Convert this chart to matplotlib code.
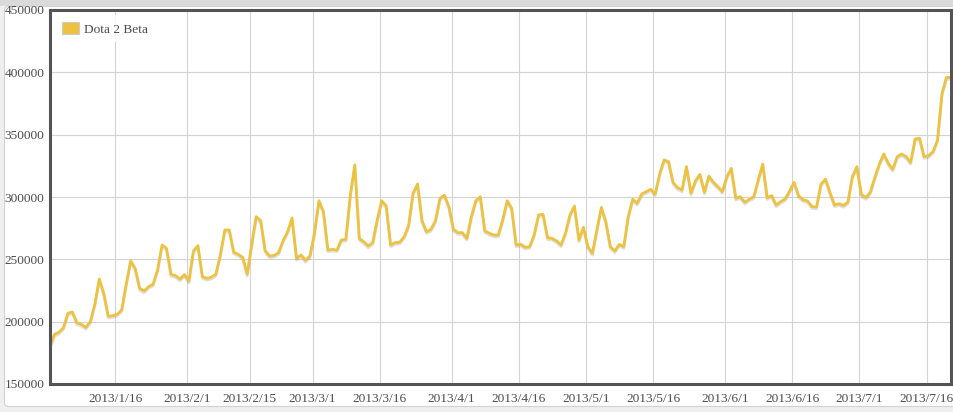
import matplotlib
matplotlib.use("Agg")
import matplotlib.pyplot as plt
import matplotlib.patheffects as pe
from matplotlib.patches import FancyBboxPatch, Rectangle
from matplotlib.transforms import IdentityTransform
import pandas as pd

SERIES_NAME = "Dota 2 Beta"
LINE_COLOR = "#edc240"
TEXT_COLOR = "#4c4c4c"
FRAME_COLOR = "#545454"

# daily player counts (2013-01-01 .. 2013-07-21)
players = [
    180000, 189900, 191500, 195200, 206700, 207800, 199200, 197900, 195400, 200000,
    213900, 234200, 222700, 204300, 204800, 205900, 209400, 230000, 248700, 242800,
    226800, 224600, 228100, 230000, 241500, 261500, 258800, 238000, 236900, 234200,
    237700, 232600, 256700, 261000, 236100, 234800, 235600, 238000, 253500, 273500,
    273500,
    255700, 254000, 251600, 238000, 262000, 284200, 281000, 257000, 252700, 253200,
    255300, 264900, 272100, 283200, 250800, 253500, 249200, 252700, 270900, 297000,
    288200, 257500, 258000, 257500, 265500, 266000, 301600, 325700, 266800, 264100,
    260700, 263400, 281600, 297000, 292800, 261500, 263400, 263700, 268000, 277000,
    303000, 310400, 281000, 272100, 274100, 281000, 299000, 301400, 292200, 274100,
    271400, 271400, 266800, 284200, 297000, 300200, 272900, 270900, 269500, 269500,
    281600, 297000, 290900, 261500, 262100, 259700, 260200, 269500, 285600, 286100,
    267400, 266800, 264900, 261500, 270900, 285600, 292800, 265500, 275700,
    260200, 254800, 273500, 291700, 280200, 260200, 256700, 262000, 260200, 284200,
    298200, 295000, 302400, 304300, 306200, 302400, 318200, 329700, 328300, 311800,
    307500, 305600, 324300, 303000, 312800, 318200, 303800, 316800, 311800, 308300,
    304300, 316300, 323000, 299000, 300200, 295800, 298200, 300200, 313600, 326500,
    299500,
    301100, 293600, 296300, 298400, 304800, 311800, 301100, 297800, 296800, 292200,
    292000, 310200, 314400, 303800, 293600, 294600, 293300, 295800, 316300, 324300,
    302200, 299500, 303800, 315500, 326200, 334500, 327000, 322200, 332300, 334500,
    332300, 327800, 346500, 347100, 332300, 333100, 336400, 345700, 383200, 396000,
    395700,
]
dates = pd.date_range("2013-01-01 10:00", periods=len(players), freq="D")

tick_dates = pd.to_datetime([
    "2013-01-16", "2013-02-01", "2013-02-15", "2013-03-01", "2013-03-16",
    "2013-04-01", "2013-04-16", "2013-05-01", "2013-05-16", "2013-06-01",
    "2013-06-16", "2013-07-01", "2013-07-16",
])
tick_labels = [
    "2013/1/16", "2013/2/1", "2013/2/15", "2013/3/1", "2013/3/16",
    "2013/4/1", "2013/4/16", "2013/5/1", "2013/5/16", "2013/6/1",
    "2013/6/16", "2013/7/1", "2013/7/16",
]
y_ticks = [150000, 200000, 250000, 300000, 350000, 400000, 450000]

plt.rcParams["font.family"] = ["Liberation Serif", "DejaVu Serif"]
plt.rcParams["font.size"] = 9.6

fig = plt.figure(figsize=(9.54, 4.12), dpi=100, facecolor="#efefef")

# page background: grey band on top, white rounded panel
fig.patches.append(Rectangle((0, 406), 960, 10, transform=IdentityTransform(),
                             facecolor="#dadada", edgecolor="none", zorder=-20))
fig.patches.append(FancyBboxPatch((4.5, 5.5), 960, 400,
                                  boxstyle="round,pad=0,rounding_size=4",
                                  transform=IdentityTransform(),
                                  facecolor="white", edgecolor="#d2d2d2",
                                  lw=0.8, zorder=-10))

ax = fig.add_axes([50 / 954, 28 / 412, 901 / 954, 374 / 412])
ax.set_facecolor("white")

ax.plot(dates, players, color=LINE_COLOR, lw=2.0, solid_joinstyle="round",
        path_effects=[pe.SimpleLineShadow(offset=(0, -1.3), shadow_color="black", alpha=0.12),
                      pe.Normal()], zorder=3)

ax.set_xlim(dates[0], dates[-1])
ax.set_ylim(150000, 450000)
ax.set_xticks(tick_dates)
ax.set_xticklabels(tick_labels)
ax.set_yticks(y_ticks)
ax.set_yticklabels([str(v) for v in y_ticks])
ax.tick_params(axis="x", length=0, pad=6.5, colors=TEXT_COLOR)
ax.tick_params(axis="y", length=0, pad=4, colors=TEXT_COLOR)

ax.grid(color="#d3d3d3", lw=0.8, zorder=0)
ax.set_axisbelow(True)
for s in ax.spines.values():
    s.set_color(FRAME_COLOR)
    s.set_linewidth(2.2)
    s.set_zorder(5)

handle = Rectangle((0, 0), 1, 1, facecolor=LINE_COLOR, edgecolor="#cccccc", lw=0.8)
leg = ax.legend([handle], [SERIES_NAME], loc="upper left", frameon=True, fancybox=False,
                framealpha=0.85, edgecolor="none", handlelength=1.3, handleheight=1.0,
                handletextpad=0.35, borderpad=0.5, borderaxespad=0.4,
                labelcolor=TEXT_COLOR)
leg.get_frame().set_linewidth(0)

fig.savefig("out.png", dpi=100, facecolor=fig.get_facecolor())
